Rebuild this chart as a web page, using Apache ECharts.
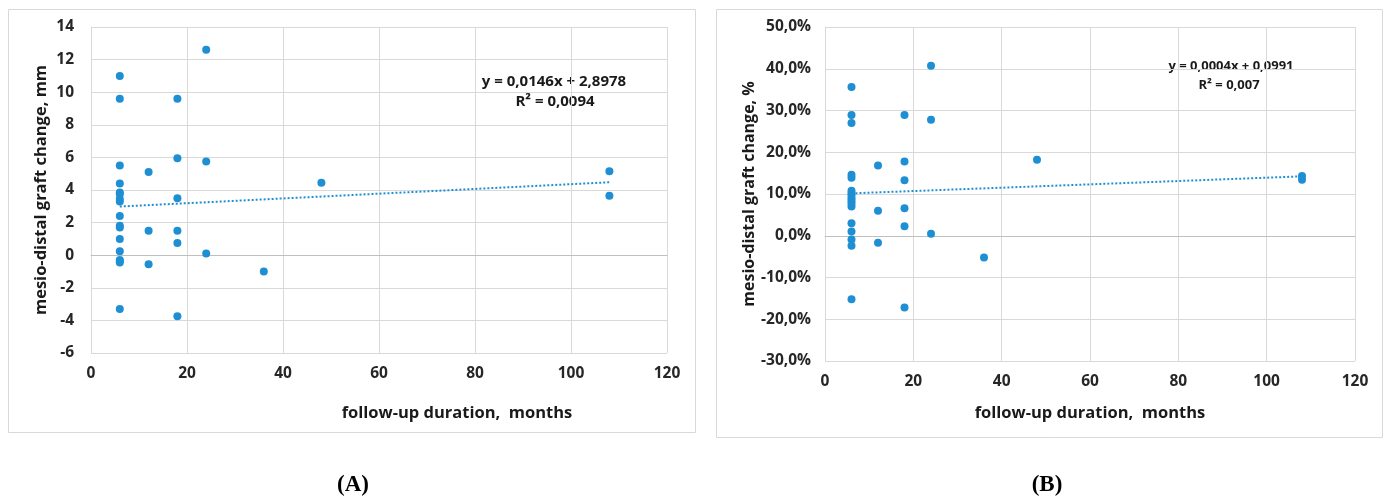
<!DOCTYPE html>
<html>
<head>
<meta charset="utf-8">
<script src="https://cdn.jsdelivr.net/npm/echarts@6/dist/echarts.min.js"></script>
<style>
html,body{margin:0;padding:0;background:#fff;}
#chart{width:1389px;height:497px;}
</style>
</head>
<body>
<div id="chart"></div>
<script>
// ---------- Data ----------
// Panel A: follow-up duration (months) vs mesio-distal graft change (mm)
const monthsA = [6,6,6,6,6,6,6,6,6,6,6,6,6,6,6,6,6, 12,12,12, 18,18,18,18,18,18, 24,24,24, 36, 48, 108,108];
const changeMm = [11.0,9.6,5.5,4.4,3.85,3.75,3.45,3.3,2.4,1.8,1.7,1.0,0.25,-0.3,-0.35,-0.45,-3.3,
                  5.1,1.5,-0.55,
                  9.6,5.95,3.5,1.5,0.75,-3.75,
                  12.6,5.75,0.1,
                  -1.0,
                  4.45,
                  5.15,3.65];
// Panel B: follow-up duration (months) vs mesio-distal graft change (%)
const monthsB = [6,6,6,6,6,6,6,6,6,6,6,6,6,6,6,6,6, 12,12,12, 18,18,18,18,18,18, 24,24,24, 36, 48, 108,108];
const changePct = [35.6,28.9,27.0,14.6,13.9,10.8,10.2,9.6,8.9,8.3,7.7,7.0,3.0,1.0,-0.9,-2.4,-15.2,
                   16.8,6.0,-1.7,
                   28.9,17.8,13.3,6.6,2.3,-17.2,
                   40.7,27.8,0.5,
                   -5.2,
                   18.2,
                   14.3,13.4];
// Linear trend lines (endpoints at x = 6 and x = 108)
const trendXA = [6, 108];
const trendYA = [2.9854, 4.4746];   // y = 0,0146x + 2,8978
const trendXB = [6, 108];
const trendYB = [10.15, 14.23];     // y = 0,0004x + 0,0991 (in %)
// Labels
const trendTextA = ['y = 0,0146x + 2,8978', 'R² = 0,0094'];
const trendTextB = ['y = 0,0004x + 0,0991', 'R² = 0,007'];
const xTitle = 'follow-up duration,  months';
const yTitleA = 'mesio-distal graft change, mm';
const yTitleB = 'mesio-distal graft change, %';
const panelLabels = ['(A)', '(B)'];

// ---------- Build ----------
const zip = (xs, ys) => xs.map((x, i) => [x, ys[i]]);
const dotColor = '#1f8fd4';
const gridColor = '#d9d9d9';
const labelFont = '"Open Sans", "Noto Sans", "Liberation Sans", sans-serif';
const tickStyle = {color:'#262626', fontSize:15.5, fontWeight:'bold', fontFamily:labelFont};

function xAxisCfg(gridIndex, namePadLeft, nameGap){
  return {
    type:'value', gridIndex, min:0, max:120, interval:20,
    axisLine:{show:true, lineStyle:{color:'#bfbfbf'}},
    axisTick:{show:false},
    splitLine:{show:true, lineStyle:{color:gridColor}},
    axisLabel:Object.assign({margin:13}, tickStyle),
    name:xTitle, nameLocation:'middle', nameGap,
    nameTextStyle:{color:'#1a1a1a', fontSize:16.5, fontWeight:'bold', fontFamily:labelFont, padding:[0,0,0,namePadLeft]}
  };
}

const chart = echarts.init(document.getElementById('chart'), null, {renderer:'canvas'});
chart.setOption({
  backgroundColor:'#ffffff',
  animation:false,
  grid:[
    {left:91, top:27, width:576, height:326},
    {left:825, top:27, width:530, height:334}
  ],
  xAxis:[
    xAxisCfg(0, 156, 52),
    xAxisCfg(1, 0, 44)
  ],
  yAxis:[
    {type:'value', gridIndex:0, min:-6, max:14, interval:2,
     axisLine:{show:true, lineStyle:{color:gridColor}}, axisTick:{show:false},
     splitLine:{show:true, lineStyle:{color:gridColor}},
     axisLabel:Object.assign({margin:17}, tickStyle),
     name:yTitleA, nameLocation:'middle', nameGap:41, nameRotate:90,
     nameTextStyle:{color:'#1a1a1a', fontSize:16.5, fontWeight:'bold', fontFamily:labelFont}},
    {type:'value', gridIndex:1, min:-30, max:50, interval:10,
     axisLine:{show:true, lineStyle:{color:gridColor}}, axisTick:{show:false},
     splitLine:{show:true, lineStyle:{color:gridColor}},
     axisLabel:Object.assign({margin:14, formatter:v => v.toFixed(1).replace('.', ',') + '%'}, tickStyle),
     name:yTitleB, nameLocation:'middle', nameGap:68, nameRotate:90,
     nameTextStyle:{color:'#1a1a1a', fontSize:16, fontWeight:'bold', fontFamily:labelFont}}
  ],
  series:[
    {type:'scatter', xAxisIndex:0, yAxisIndex:0, data:zip(monthsA, changeMm),
     symbolSize:8, itemStyle:{color:dotColor, opacity:1}, z:3},
    {type:'line', xAxisIndex:0, yAxisIndex:0, data:zip(trendXA, trendYA),
     showSymbol:false, symbol:'none', lineStyle:{color:dotColor, width:2, type:[2,2]}, z:2},
    {type:'scatter', xAxisIndex:1, yAxisIndex:1, data:zip(monthsB, changePct),
     symbolSize:8, itemStyle:{color:dotColor, opacity:1}, z:3},
    {type:'line', xAxisIndex:1, yAxisIndex:1, data:zip(trendXB, trendYB),
     showSymbol:false, symbol:'none', lineStyle:{color:dotColor, width:2, type:[2,2]}, z:2}
  ],
  graphic:[
    {type:'rect', shape:{x:8.5, y:9.5, width:687, height:423}, style:{fill:'none', stroke:'#d9d9d9', lineWidth:1}, silent:true},
    {type:'rect', shape:{x:716.5, y:9.5, width:666, height:428}, style:{fill:'none', stroke:'#d9d9d9', lineWidth:1}, silent:true},
    {type:'text', x:554, y:82, style:{text:trendTextA[0], fill:'#1a1a1a', font:'bold 15px ' + labelFont, align:'center', verticalAlign:'middle'}},
    {type:'text', x:555, y:102, style:{text:trendTextA[1], fill:'#1a1a1a', font:'bold 15px ' + labelFont, align:'center', verticalAlign:'middle'}},
    {type:'text', x:1231, y:66, style:{text:trendTextB[0], fill:'#1a1a1a', font:'bold 13px ' + labelFont, align:'center', verticalAlign:'middle'}},
    {type:'text', x:1229, y:85, style:{text:trendTextB[1], fill:'#1a1a1a', font:'bold 13px ' + labelFont, align:'center', verticalAlign:'middle'}},
    {type:'text', x:353, y:485, style:{text:panelLabels[0], fill:'#000', font:'bold 23px "Liberation Serif", "DejaVu Serif", serif', align:'center', verticalAlign:'middle'}},
    {type:'text', x:1047, y:485, style:{text:panelLabels[1], fill:'#000', font:'bold 23px "Liberation Serif", "DejaVu Serif", serif', align:'center', verticalAlign:'middle'}}
  ]
});
</script>
</body>
</html>
